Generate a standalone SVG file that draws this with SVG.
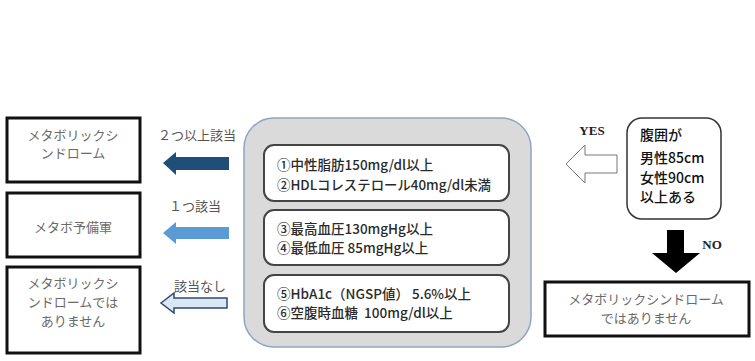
<svg xmlns="http://www.w3.org/2000/svg" width="755" height="361" viewBox="0 0 755 361">
<defs>
<style>
.box{fill:#fff;stroke:#111;stroke-width:3}
.mincho{font-family:"Liberation Serif","Noto Sans CJK JP",serif;fill:#6a6a6a;font-size:13px}
.lbl{font-family:"Liberation Serif","Noto Sans CJK JP",serif;fill:#555;font-size:13px}
.crit{font-family:"Noto Sans CJK JP","Noto Sans",sans-serif;fill:#2a2a2a;font-size:13.5px;font-weight:500;white-space:pre}
.inner{fill:#fff;stroke:#444;stroke-width:2}
.eng{font-family:"Liberation Serif",serif;font-weight:bold;fill:#222;font-size:13px}
</style>
</defs>
<rect width="755" height="361" fill="#fff"/>

<g id="result-metabo">
<rect class="box" x="7" y="118" width="133" height="64"/>
<text class="mincho" text-anchor="middle"><tspan x="73" y="140">メタボリックシ</tspan><tspan x="73" y="158">ンドローム</tspan></text>
</g>
<g id="result-yobi">
<rect class="box" x="7" y="193" width="133" height="64"/>
<text class="mincho" x="73" y="232" text-anchor="middle">メタボ予備軍</text>
</g>
<g id="result-none">
<rect class="box" x="7" y="267" width="133" height="86"/>
<text class="mincho" text-anchor="middle"><tspan x="73" y="288">メタボリックシ</tspan><tspan x="73" y="307">ンドロームでは</tspan><tspan x="73" y="326">ありません</tspan></text>
</g>

<g id="criteria">
<rect x="244" y="118" width="287" height="229" rx="30" ry="30" fill="#dadada" stroke="#8fa5be" stroke-width="1.5"/>
<rect class="inner" x="264" y="145" width="245" height="56" rx="10" ry="10"/>
<text class="crit" x="277" y="170">①中性脂肪150mg/dl以上</text>
<text class="crit" x="277" y="190" textLength="214" lengthAdjust="spacingAndGlyphs">②HDLコレステロール40mg/dl未満</text>
<rect class="inner" x="264" y="210" width="245" height="55" rx="10" ry="10"/>
<text class="crit"><tspan x="277" y="234">③最高血圧130mgHg以上</tspan><tspan x="277" y="253">④最低血圧 85mgHg以上</tspan></text>
<rect class="inner" x="264" y="275" width="245" height="57" rx="10" ry="10"/>
<text class="crit"><tspan x="277" y="299">⑤HbA1c（NGSP値） 5.6%以上</tspan><tspan x="277" y="318">⑥空腹時血糖  100mg/dl以上</tspan></text>
</g>

<g id="decision">
<rect x="627" y="118" width="94" height="101" rx="15" ry="15" fill="#fff" stroke="#333" stroke-width="1.5"/>
<text class="crit" style="fill:#111;font-size:14px"><tspan x="640" y="140">腹囲が</tspan><tspan x="640" y="163">男性85cm</tspan><tspan x="640" y="183">女性90cm</tspan><tspan x="640" y="202">以上ある</tspan></text>
</g>

<g id="result-not">
<rect class="box" x="545" y="282" width="204" height="54"/>
<text class="mincho" text-anchor="middle"><tspan x="646" y="304">メタボリックシンドローム</tspan><tspan x="646" y="323">ではありません</tspan></text>
</g>

<g id="connectors">
<polygon points="163,163 176,152 176,157 229,157 229,170 176,170 176,175" fill="#1f4e79"/>
<polygon points="163,233 176,222 176,227 229,227 229,239 176,239 176,244" fill="#5b9bd5"/>
<polygon points="161,303 174,293 174,298 227,298 227,308 174,308 174,313" fill="#dae8f5" stroke="#2e4a6b" stroke-width="1.5"/>
<polygon points="566,164 585,145 585,155 617,155 617,173 585,173 585,183" fill="#fff" stroke="#777" stroke-width="1"/>
<polygon points="667,230 684,230 684,253 700,253 676,273 652,253 667,253" fill="#000"/>
<text class="lbl" x="197" y="140" text-anchor="middle">２つ以上該当</text>
<text class="lbl" x="195" y="211" text-anchor="middle">１つ該当</text>
<text class="lbl" x="200" y="291" text-anchor="middle">該当なし</text>
<text class="eng" x="592" y="135" text-anchor="middle">YES</text>
<text class="eng" x="712" y="249" text-anchor="middle">NO</text>
</g>
</svg>
